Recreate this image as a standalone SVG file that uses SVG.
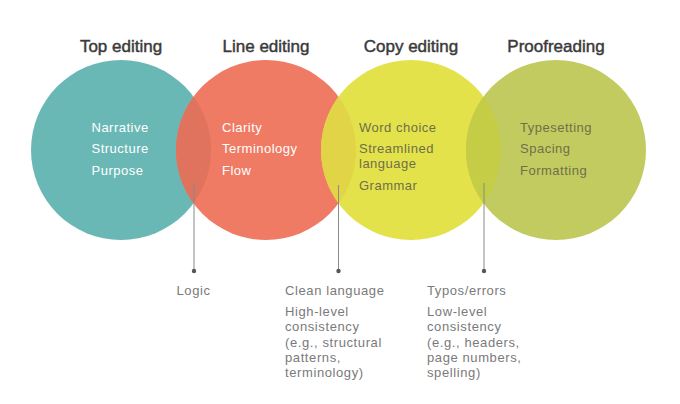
<svg xmlns="http://www.w3.org/2000/svg" width="680" height="404" viewBox="0 0 680 404">
<style>
.h{font-family:"Liberation Sans",Arial,sans-serif;font-size:17px;fill:#3a3a3a;stroke:#3a3a3a;stroke-width:0.45;text-anchor:middle}
.w{font-family:"Liberation Sans",Arial,sans-serif;font-size:13px;letter-spacing:0.5px;fill:#ffffff}
.d{font-family:"Liberation Sans",Arial,sans-serif;font-size:13px;letter-spacing:0.5px;fill:#6f6f4a}
.b{font-family:"Liberation Sans",Arial,sans-serif;font-size:13px;letter-spacing:0.6px;fill:#7a7a7a}
.ln{stroke:#8a8a8a;stroke-width:1;fill:none}
.dot{fill:#555}
</style>
<rect width="680" height="404" fill="#ffffff"/>
<g id="top-editing">
<circle cx="121" cy="150" r="90" fill="#6ab8b6"/>
<text class="h" x="121" y="52">Top editing</text>
</g>
<g id="line-editing">
<circle cx="266" cy="150" r="90" fill="#ef7b64"/>
<text class="h" x="266" y="52">Line editing</text>
</g>
<g id="copy-editing">
<circle cx="411" cy="150" r="90" fill="#e4e24a"/>
<text class="h" x="411" y="52">Copy editing</text>
</g>
<g id="proofreading">
<circle cx="556" cy="150" r="90" fill="#c2cb60"/>
<text class="h" x="556" y="52">Proofreading</text>
</g>
<g id="overlaps">
<path d="M193.5,96.67 A90,90 0 0 1 193.5,203.33 A90,90 0 0 1 193.5,96.67 Z" fill="#df735d"/>
<path d="M338.5,96.67 A90,90 0 0 1 338.5,203.33 A90,90 0 0 1 338.5,96.67 Z" fill="#e1d446"/>
<path d="M483.5,96.67 A90,90 0 0 1 483.5,203.33 A90,90 0 0 1 483.5,96.67 Z" fill="#c4cd45"/>
</g>
<g id="circle-texts">
<text class="w" x="91.5" y="131.5">Narrative</text>
<text class="w" x="91.5" y="153">Structure</text>
<text class="w" x="91.5" y="175">Purpose</text>
<text class="w" x="222" y="131.5">Clarity</text>
<text class="w" x="222" y="153">Terminology</text>
<text class="w" x="222" y="175">Flow</text>
<text class="d" x="359" y="131.5">Word choice</text>
<text class="d" x="359" y="153">Streamlined</text>
<text class="d" x="359" y="168">language</text>
<text class="d" x="359" y="190">Grammar</text>
<text class="d" x="520" y="131.5">Typesetting</text>
<text class="d" x="520" y="153">Spacing</text>
<text class="d" x="520" y="175">Formatting</text>
</g>
<g id="connectors">
<line class="ln" x1="194" y1="183" x2="194" y2="271"/>
<circle class="dot" cx="194" cy="271" r="2.2"/>
<line class="ln" x1="338.5" y1="185" x2="338.5" y2="271"/>
<circle class="dot" cx="338.5" cy="271" r="2.2"/>
<line class="ln" x1="484" y1="183" x2="484" y2="271"/>
<circle class="dot" cx="484" cy="271" r="2.2"/>
</g>
<g id="overlap-labels">
<text class="b" x="176.5" y="294.5">Logic</text>
<text class="b" x="285" y="294.5">Clean language</text>
<text class="b" x="285" y="316">High-level</text>
<text class="b" x="285" y="331">consistency</text>
<text class="b" x="285" y="346.5">(e.g., structural</text>
<text class="b" x="285" y="361.5">patterns,</text>
<text class="b" x="285" y="376.5">terminology)</text>
<text class="b" x="427" y="294.5">Typos/errors</text>
<text class="b" x="427" y="316">Low-level</text>
<text class="b" x="427" y="331">consistency</text>
<text class="b" x="427" y="346.5">(e.g., headers,</text>
<text class="b" x="427" y="361.5">page numbers,</text>
<text class="b" x="427" y="376.5">spelling)</text>
</g>
</svg>
